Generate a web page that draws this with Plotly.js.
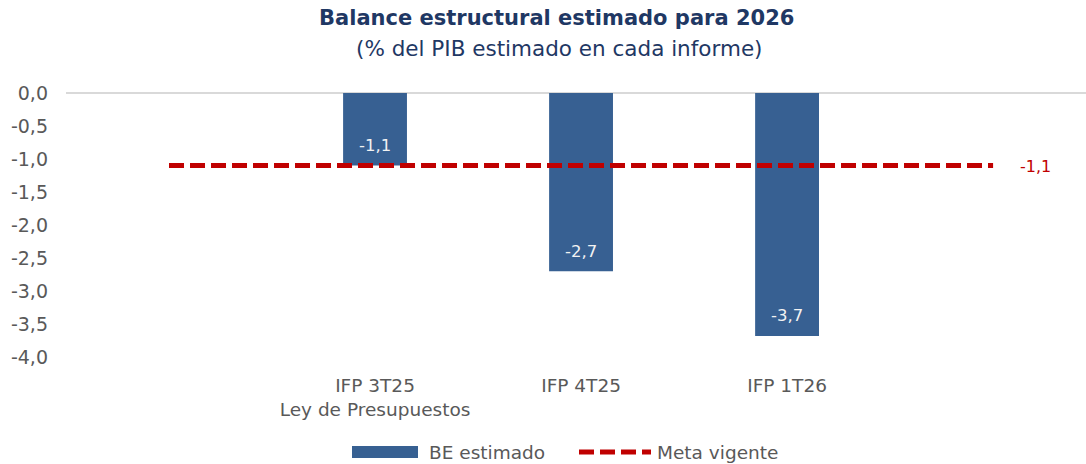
<!DOCTYPE html>
<html><head><meta charset="utf-8">
<script src="https://cdn.plot.ly/plotly-3.0.1.min.js"></script>
<style>html,body{margin:0;padding:0;background:#fff;}</style>
</head><body>
<div id="chart" style="width:1086px;height:464px;"></div>
<script>
const categories = ["", "IFP 3T25<br>Ley de Presupuestos", "IFP 4T25", "IFP 1T26", ""];
const beEstimado = [null, -1.1, -2.7, -3.68, null];
const beLabels = ["", "-1,1", "-2,7", "-3,7", ""];
const metaVigente = [-1.1, -1.1, -1.1, -1.1, -1.1];
const metaLabel = "-1,1";
const yTicks = [0, -0.5, -1, -1.5, -2, -2.5, -3, -3.5, -4];
const yTickText = ["0,0", "-0,5", "-1,0", "-1,5", "-2,0", "-2,5", "-3,0", "-3,5", "-4,0"];
const seriesNames = ["BE estimado", "Meta vigente"];

const xIdx = categories.map((c, i) => i);
const font = "DejaVu Sans, Verdana, sans-serif";
const barColor = "#376092";
const lineColor = "#C00000";

// pixel -> paper helpers for the custom legend (plot area: x 66..1086, y 93..357)
const px = v => (v - 66) / 1020;
const py = v => (357 - v) / 264;

const traces = [
  {
    type: "bar", name: seriesNames[0], x: xIdx, y: beEstimado,
    marker: {color: barColor}, width: 0.31,
    hoverinfo: "skip"
  },
  {
    type: "scatter", mode: "lines", name: seriesNames[1], x: xIdx, y: metaVigente,
    line: {color: lineColor, width: 5, dash: "15px,6px"},
    hoverinfo: "skip"
  }
];

const barLabelAnns = xIdx.filter(i => beEstimado[i] !== null).map(i => ({
  text: beLabels[i], xref: "x", yref: "y", x: xIdx[i], y: beEstimado[i], yshift: 20,
  xanchor: "center", yanchor: "middle", showarrow: false,
  font: {size: 16.5, color: "#f2f2f2", family: font}
}));

const layout = {
  width: 1086, height: 464,
  margin: {l: 66, r: 0, t: 93, b: 107},
  paper_bgcolor: "#ffffff", plot_bgcolor: "#ffffff",
  separators: ",.",
  showlegend: false,
  font: {family: font, color: "#595959", size: 18},
  xaxis: {
    range: [-0.5, 4.451], tickvals: xIdx, ticktext: categories,
    showgrid: false, zeroline: false, showline: false, ticks: "",
    ticklabelstandoff: 15,
    tickfont: {size: 18.5, color: "#595959"}, fixedrange: true
  },
  yaxis: {
    range: [-4, 0], tickvals: yTicks, ticktext: yTickText,
    showgrid: false, zeroline: true, zerolinecolor: "#d9d9d9", zerolinewidth: 2,
    showline: false, ticks: "", ticklabelstandoff: 17,
    tickfont: {size: 19, color: "#595959"}
  },
  shapes: [
    {type: "rect", xref: "paper", yref: "paper", x0: px(352), x1: px(418), y0: py(458), y1: py(446),
     fillcolor: barColor, line: {width: 0}},
    {type: "line", xref: "paper", yref: "paper", x0: px(579), x1: px(651), y0: py(452), y1: py(452),
     line: {color: lineColor, width: 5, dash: "15px,6px"}}
  ],
  annotations: barLabelAnns.concat([
    {text: "<b>Balance estructural estimado para 2026</b>", xref: "paper", yref: "paper",
     x: px(556), y: 1, yshift: 75, xanchor: "center", yanchor: "middle", showarrow: false,
     font: {size: 21, color: "#1F3864", family: font}},
    {text: "(% del PIB estimado en cada informe)", xref: "paper", yref: "paper",
     x: px(559), y: 1, yshift: 45, xanchor: "center", yanchor: "middle", showarrow: false,
     font: {size: 21.5, color: "#1F3864", family: font}},
    {text: metaLabel, xref: "x", yref: "y", x: xIdx[4], y: metaVigente[4], xshift: 25, yshift: -1,
     xanchor: "left", yanchor: "middle", showarrow: false,
     font: {size: 16, color: lineColor, family: font}},
    {text: seriesNames[0], xref: "paper", yref: "paper", x: px(427), y: py(452),
     xanchor: "left", yanchor: "middle", showarrow: false,
     font: {size: 18.5, color: "#595959", family: font}},
    {text: seriesNames[1], xref: "paper", yref: "paper", x: px(655), y: py(452),
     xanchor: "left", yanchor: "middle", showarrow: false,
     font: {size: 18.5, color: "#595959", family: font}}
  ])
};

Plotly.newPlot("chart", traces, layout, {displayModeBar: false, staticPlot: true});
</script>
</body></html>
